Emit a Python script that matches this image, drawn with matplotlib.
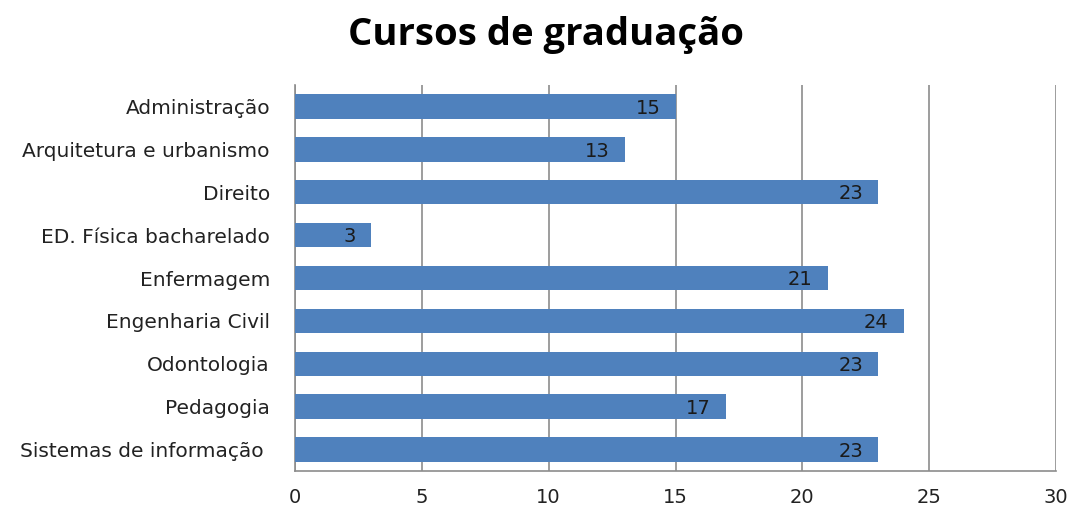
import matplotlib
matplotlib.use("Agg")
import matplotlib.pyplot as plt

categories = ["Administração", "Arquitetura e urbanismo", "Direito", "ED. Física bacharelado",
              "Enfermagem", "Engenharia Civil", "Odontologia", "Pedagogia", "Sistemas de informação "]
values = [15, 13, 23, 3, 21, 24, 23, 17, 23]
xticks = [0, 5, 10, 15, 20, 25, 30]

plt.rcParams['font.family'] = ['DejaVu Sans']

fig = plt.figure(figsize=(10.74, 5.11), dpi=100)
ax = fig.add_axes([295/1074, 1-471/511, (1056-295)/1074, (471-85)/511])

bar_color = "#4F81BD"
ypos = list(range(len(categories)))
ax.barh(ypos, values, height=0.57, color=bar_color, zorder=3)
for y, v in zip(ypos, values):
    ax.text(v - 0.6, y + 0.04, str(v), ha="right", va="center", fontsize=14,
            color="#1a1a1a", zorder=4)

ax.set_ylim(len(categories) - 0.5, -0.5)
ax.set_xlim(0, 30)
ax.set_xticks(xticks)
ax.set_xticklabels([str(t) for t in xticks], fontsize=14, color="#222222")
ax.set_yticks(ypos)
ax.set_yticklabels(categories, fontsize=14.5, color="#222222")
ax.tick_params(axis="y", length=0, pad=18)
ax.tick_params(axis="x", length=0, pad=12)
ax.xaxis.grid(True, color="#8c8c8c", linewidth=1.2, zorder=0)
for s in ["top", "right"]:
    ax.spines[s].set_visible(False)
for s in ["left", "bottom"]:
    ax.spines[s].set_color("#8c8c8c")
    ax.spines[s].set_linewidth(1.2)

fig.text(546/1074, 1-35/511, "Cursos de graduação", ha="center", va="center",
         fontsize=27.5, fontweight="bold", color="black", family=["Open Sans", "DejaVu Sans"])

fig.savefig("out.png", dpi=100, facecolor="white")
